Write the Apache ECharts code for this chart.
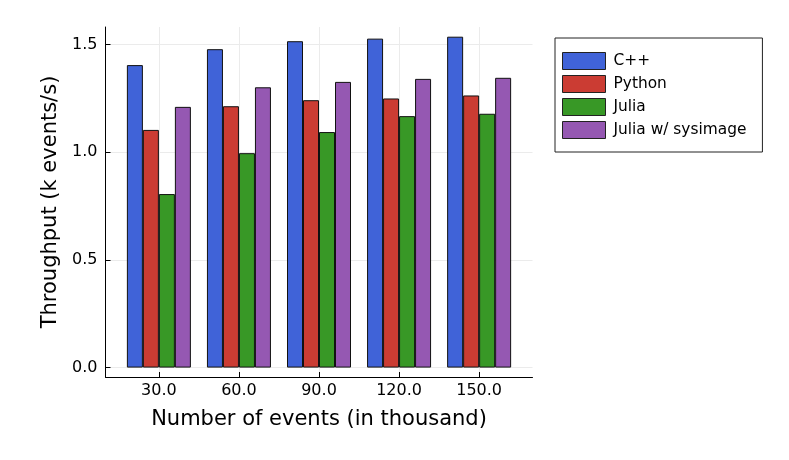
<!DOCTYPE html>
<html>
<head>
<meta charset="utf-8">
<script src="https://cdn.jsdelivr.net/npm/echarts@6/dist/echarts.min.js"></script>
<style>
html,body{margin:0;padding:0;background:#fff;}
#chart{width:789px;height:460px;}
</style>
</head>
<body>
<div id="chart"></div>
<script>
var categories = [30, 60, 90, 120, 150];
var seriesNames = ['C++', 'Python', 'Julia', 'Julia w/ sysimage'];
var cppValues = [1.405, 1.479, 1.516, 1.528, 1.537];
var pythonValues = [1.104, 1.214, 1.242, 1.250, 1.264];
var juliaValues = [0.806, 0.996, 1.094, 1.168, 1.179];
var sysimageValues = [1.211, 1.302, 1.327, 1.341, 1.346];
var yTickValues = [0, 0.5, 1.0, 1.5];
var colors = ['#4063D8', '#CB3C33', '#389826', '#9558B2'];

var allValues = [cppValues, pythonValues, juliaValues, sysimageValues];
var font = 'DejaVu Sans';

var chart = echarts.init(document.getElementById('chart'), null, {renderer: 'canvas'});
var series = seriesNames.map(function (name, i) {
  return {
    name: name,
    type: 'bar',
    barWidth: 16,
    barGap: '0%',
    data: categories.map(function (c, j) { return [c, allValues[i][j]]; }),
    itemStyle: { color: colors[i], borderColor: '#111', borderWidth: 1 },
    emphasis: { disabled: true }
  };
});

chart.setOption({
  backgroundColor: '#fff',
  animation: false,
  textStyle: { fontFamily: font },
  grid: { left: 105.5, right: 256.5, top: 27, bottom: 83, containLabel: false },
  legend: {
    orient: 'vertical',
    left: 555,
    top: 38,
    icon: 'rect',
    itemWidth: 43,
    itemHeight: 17,
    itemGap: 5,
    padding: [14, 16, 13, 7],
    borderColor: '#222',
    borderWidth: 1,
    backgroundColor: '#fff',
    itemStyle: { borderColor: '#222', borderWidth: 1 },
    textStyle: { fontFamily: font, fontSize: 15.4, lineHeight: 16, color: '#000', padding: [0, 0, 0, 3] },
    data: seriesNames
  },
  xAxis: {
    type: 'value',
    min: 10,
    max: 170,
    name: 'Number of events (in thousand)',
    nameLocation: 'middle',
    nameGap: 32,
    nameTextStyle: { fontFamily: font, fontSize: 21, color: '#000' },
    axisLine: { show: true, onZero: false, lineStyle: { color: '#000', width: 1 } },
    axisTick: { show: true, inside: true, length: 5, lineStyle: { color: '#000' }, customValues: categories },
    axisLabel: { customValues: categories, fontFamily: font, fontSize: 16, color: '#000', margin: 6,
      formatter: function (v) { return v.toFixed(1); } },
    splitLine: { show: true, lineStyle: { color: '#ebebeb', width: 1 } }
  },
  yAxis: {
    type: 'value',
    min: -0.0437,
    max: 1.582,
    name: 'Throughput (k events/s)',
    nameLocation: 'middle',
    nameGap: 37,
    nameTextStyle: { fontFamily: font, fontSize: 21, color: '#000' },
    axisLine: { show: true, lineStyle: { color: '#000', width: 1 } },
    axisTick: { show: true, inside: true, length: 5, lineStyle: { color: '#000' }, customValues: yTickValues },
    axisLabel: { customValues: yTickValues, fontFamily: font, fontSize: 16, color: '#000', margin: 8,
      formatter: function (v) { return v.toFixed(1); } },
    splitLine: { show: true, lineStyle: { color: '#ebebeb', width: 1 } }
  },
  series: series
});
</script>
</body>
</html>
